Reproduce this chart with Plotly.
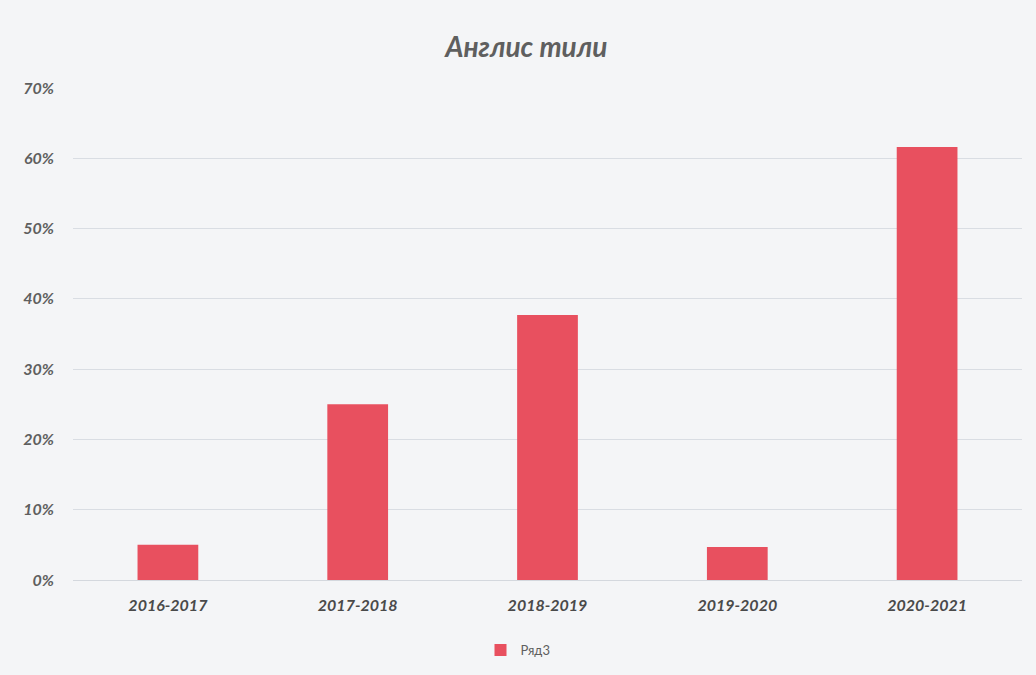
import plotly.graph_objects as go

categories = ["2016-2017", "2017-2018", "2018-2019", "2019-2020", "2020-2021"]
values = [0.05, 0.25, 0.377, 0.047, 0.616]
series_name = "Ряд3"
title_text = "Англис тили"
y_ticks = [0, 0.1, 0.2, 0.3, 0.4, 0.5, 0.6, 0.7]
y_labels = ["<b><i>%d%%</i></b>" % round(v * 100) for v in y_ticks]
x_labels = ["<b><i>%s</i></b>" % c for c in categories]

fig = go.Figure()
fig.add_trace(go.Bar(
    x=categories, y=values, name=series_name,
    marker=dict(color="#E8505F", line=dict(width=0)),
    width=0.32, showlegend=True,
))

fig.update_layout(
    width=1036, height=675,
    paper_bgcolor="#F4F5F7", plot_bgcolor="#F4F5F7",
    margin=dict(l=73, r=14, t=88, b=95),
    title=dict(text="<b><i>" + title_text + "</i></b>", x=0.508, xanchor="center",
               y=1 - 47 / 675, yanchor="middle",
               font=dict(family="Lato, Open Sans, sans-serif", size=28, color="#5F5F5F")),
    font=dict(family="Lato, Open Sans, sans-serif", color="#5F5F5F"),
    xaxis=dict(tickmode="array", tickvals=categories, ticktext=x_labels,
               tickfont=dict(size=16, color="#4A4A4A"), showgrid=False,
               showline=True, linecolor="#D4D8DE", linewidth=1, ticks="",
               ticklabelstandoff=11),
    yaxis=dict(range=[0, 0.7], tickmode="array", tickvals=y_ticks, ticktext=y_labels,
               tickfont=dict(size=16, color="#5F5F5F"), showgrid=True,
               gridcolor="#D9DDE3", gridwidth=1, zeroline=False, showline=False,
               ticks="", ticklabelstandoff=18),
    legend=dict(orientation="h", x=0.5, xanchor="center", xref="container",
                y=25 / 675, yanchor="middle", yref="container",
                font=dict(size=13, color="#5F5F5F"), bgcolor="rgba(0,0,0,0)",
                itemwidth=30),
    bargap=0.68,
)

fig.write_html("out.html", config={"displayModeBar": False},
               post_script="document.body.style.margin='0';document.body.style.overflow='hidden';")
